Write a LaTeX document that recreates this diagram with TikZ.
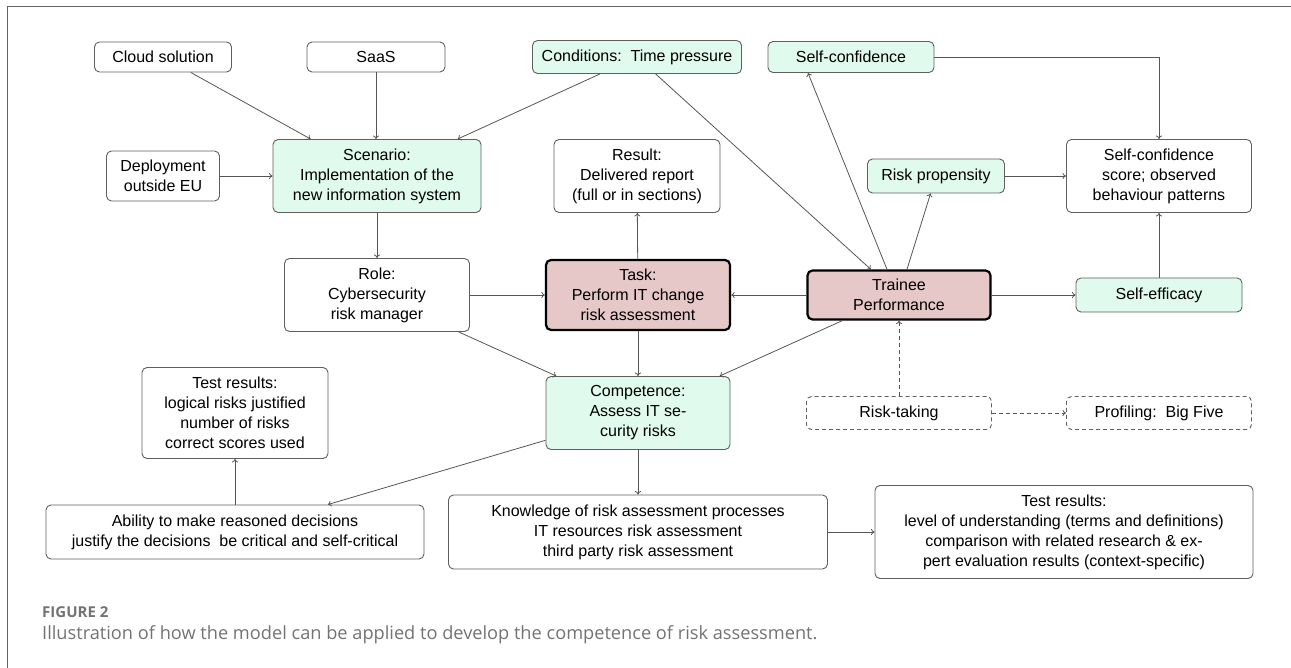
\documentclass[tikz,border=0pt]{standalone}
\usepackage{fontspec}
\setmainfont{Liberation Sans}
\newfontfamily\capfont{Open Sans}
\usetikzlibrary{arrows.meta}
\definecolor{mint}{RGB}{224,250,238}
\definecolor{rose}{RGB}{230,200,200}
\definecolor{edgec}{RGB}{85,85,85}
\definecolor{boxc}{RGB}{95,95,95}
\definecolor{capgray}{RGB}{115,115,115}
\definecolor{framec}{RGB}{100,100,100}
\begin{document}
\begin{tikzpicture}[x=1pt,y=-1pt,
  box/.style={draw=boxc, rounded corners=5pt, line width=0.9pt, align=center, inner sep=0pt, fill=white,
    font=\fontsize{16}{20}\selectfont},
  gbox/.style={box, fill=mint},
  rbox/.style={box, fill=rose, draw=black, line width=2.2pt},
  dbox/.style={box, dash pattern=on 4pt off 3pt},
  conn/.style={draw=edgec, line width=0.8pt, -{To[length=3.5pt,width=6pt]}},
  dconn/.style={conn, dash pattern=on 4pt off 3pt},
]
\useasboundingbox (0,0) rectangle (1291,668);
\draw[framec, line width=1pt] (7,668) -- (7,7) -- (1291,7);

% top row
\node[box, minimum width=137pt, minimum height=30pt] (cloud) at (163,57) {Cloud solution};
\node[box, minimum width=138pt, minimum height=30pt] (saas) at (376,57) {SaaS};
\node[gbox, minimum width=209pt, minimum height=33pt] (cond) at (637,57) {Conditions:\ \ Time pressure};
\node[gbox, minimum width=166pt, minimum height=31pt] (sconf) at (851,57) {Self-confidence};

% second row
\node[box, minimum width=113pt, minimum height=50pt] (deploy) at (163,176) {Deployment\\outside EU};
\node[gbox, minimum width=208pt, minimum height=73pt] (scen) at (377,176) {Scenario:\\Implementation of the\\new information system};
\node[box, minimum width=166pt, minimum height=73pt] (result) at (637,176) {Result:\\Delivered report\\(full or in sections)};
\node[gbox, minimum width=137pt, minimum height=34pt] (riskp) at (936,176) {Risk propensity};
\node[box, minimum width=185pt, minimum height=73pt] (score) at (1159,176) {Self-confidence\\score; observed\\behaviour patterns};

% third row
\node[box, minimum width=185pt, minimum height=73pt] (role) at (377,295) {Role:\\Cybersecurity\\risk manager};
\node[rbox, minimum width=184pt, minimum height=70pt] (task) at (638,295) {Task:\\Perform IT change\\risk assessment};
\node[rbox, minimum width=183pt, minimum height=49pt] (trainee) at (899,295) {Trainee\\Performance};
\node[gbox, minimum width=166pt, minimum height=34pt] (seff) at (1159,295) {Self-efficacy};

% fourth row
\node[box, minimum width=186pt, minimum height=91pt] (testl) at (235,413) {Test results:\\logical risks justified\\number of risks\\correct scores used};
\node[gbox, minimum width=184pt, minimum height=73pt] (comp) at (638,413) {Competence:\\Assess IT se-\\curity risks};
\node[dbox, minimum width=185pt, minimum height=33pt] (risktake) at (899,413) {Risk-taking};
\node[dbox, minimum width=185pt, minimum height=33pt] (profil) at (1159,413) {Profiling:\ \ Big Five};

% fifth row
\node[box, minimum width=378pt, minimum height=54pt] (ability) at (235,532) {Ability to make reasoned decisions\\justify the decisions\ \ be critical and self-critical};
\node[box, minimum width=379pt, minimum height=74pt] (know) at (638,532) {Knowledge of risk assessment processes\\IT resources risk assessment\\third party risk assessment};
\node[box, minimum width=378pt, minimum height=93pt] (testr) at (1064,532) {Test results:\\level of understanding (terms and definitions)\\comparison with related research \& ex-\\pert evaluation results (context-specific)};

% connectors
\draw[conn] (cloud) -- (scen);
\draw[conn] (saas) -- (saas |- scen.north);
\draw[conn] (cond) -- (scen);
\draw[conn] (deploy) -- (scen);
\draw[conn] (scen) -- (role);
\draw[conn] (cond) -- (trainee);
\draw[conn] ([xshift=-12pt]trainee.north) -- ([xshift=-43pt]sconf.south);
\draw[conn] (trainee) -- (riskp);
\draw[conn] (sconf.east) -| (score.north);
\draw[conn] (riskp) -- (score);
\draw[conn] (seff) -- (score);
\draw[conn] (trainee) -- (seff);
\draw[conn] (trainee) -- (task);
\draw[conn] (role) -- (task);
\draw[conn] (task) -- (result);
\draw[conn] (task) -- (comp);
\draw[conn] (role) -- (comp);
\draw[conn] (trainee) -- (comp);
\draw[conn] (comp) -- (ability);
\draw[conn] (ability) -- (testl);
\draw[conn] (comp) -- (know);
\draw[conn] (know) -- (testr);
\draw[dconn] (risktake) -- (trainee);
\draw[dconn] (risktake) -- (profil);

% caption
\node[anchor=base west, inner sep=0pt, text=capgray, font=\capfont\bfseries\fontsize{15}{18}\selectfont] (fig) at (42,617) {FIGURE 2};
\node[anchor=base west, inner sep=0pt, text=capgray, font=\capfont\fontsize{18.2}{21}\selectfont] (cap) at (42,639) {Illustration of how the model can be applied to develop the competence of risk assessment.};
\end{tikzpicture}
\end{document}
